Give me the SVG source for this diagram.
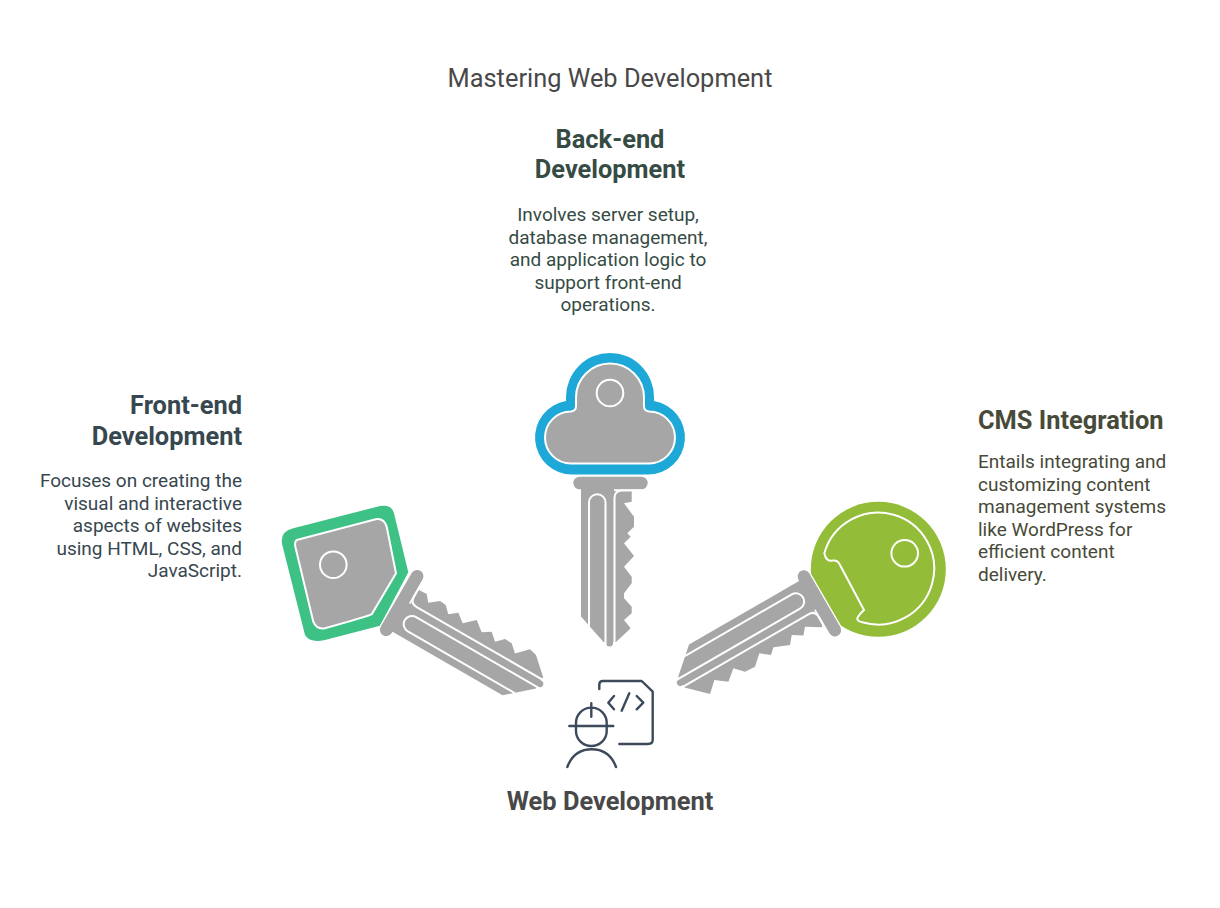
<svg xmlns="http://www.w3.org/2000/svg" width="1220" height="908" viewBox="0 0 1220 908">
<style>
text{font-family:Roboto,"Liberation Sans",sans-serif}
.title{font-size:25.4px;fill:#484848;text-anchor:middle}
.h{font-size:25.4px;font-weight:700}
.b{font-size:19px}
.g{fill:#a6a6a6}
.w{fill:none;stroke:#fff;stroke-width:2}
.gw{fill:#a6a6a6;stroke:#fff;stroke-width:2}
.ic{fill:none;stroke:#3d4a5c;stroke-width:2.4;stroke-linecap:round;stroke-linejoin:round}
</style>
<defs>
<rect id="keybar" x="573.3" y="476.7" width="74.4" height="12.6" rx="6.3" class="g" stroke="#fff" stroke-width="2.5" paint-order="stroke"/>
<g id="keylines">
<path class="w" d="M589 626V502.500A8.250 8.250 0 0 1 605.500 502.500V650"/>
<path class="w" d="M614.500 650V498Q614.500 490.500 622 490.500H645"/>
</g>
</defs>
<rect width="1220" height="908" fill="#fff"/>
<text class="title" x="610" y="86.500">Mastering Web Development</text>
<g id="connectors"/>
<g id="node-backend">
<path fill="#1ea8d8" d="M566 397A44 44 0 0 1 654 397V401A37 37 0 0 1 648 474.500H572A37 37 0 0 1 566 401Z"/>
<path class="gw" d="M576 397.500A34 34 0 0 1 644 397.500V406Q644 411 649 411.500A26 26 0 0 1 649 463.500H571A26 26 0 0 1 571 411.500Q576 411 576 406Z"/>
<circle class="w" cx="610" cy="393" r="13.300"/>
<use href="#keybar"/>
<path class="g" d="M581 487V616.500L603.500 642H606V643A3.500 3.500 0 0 0 613 643V642H616L630.700 628.300L624 620L631.700 613.300V606.700L624 598.300V593.300L631.700 583.300V576.700L624 566.700L634 556L624 543.300L630.700 536.700L627.300 533.300L634 526.700V516.700L624 503.300L631.700 501.700V491H614V487Z"/>
<use href="#keylines"/>
<text class="h" x="610" y="147.500" text-anchor="middle" fill="#364b44">Back-end</text>
<text class="h" x="610" y="177.500" text-anchor="middle" fill="#364b44">Development</text>
<g class="b" text-anchor="middle" fill="#364b44">
<text x="608" y="221">Involves server setup,</text>
<text x="608" y="243.500">database management,</text>
<text x="608" y="266">and application logic to</text>
<text x="608" y="288.500">support front-end</text>
<text x="608" y="311">operations.</text>
</g>
</g>
<g id="node-frontend">
<path fill="#3dc185" d="M293.300 528.300L380 506Q391.700 504 394 513.300L408.300 572.300L380 625.700L325 640Q310 643.300 305 635L282.300 545Q279.300 531.700 293.300 528.300Z"/>
<path class="gw" d="M296.700 540L376.700 519Q384 518.300 386.700 526.700L396 573.300L371.700 614.300Q370 615.700 325 628.300Q316.700 630 313.300 621.700L295.700 548.300Q294 542.300 296.700 540Z"/>
<circle class="w" cx="333.300" cy="564.700" r="13.300"/>
<g transform="translate(401.700 603) rotate(-60) translate(-610.500 -483)">
<use href="#keybar"/>
<path class="g" d="M581 487V616.500L603.500 642H606V643A3.500 3.500 0 0 0 613 643V642H616L616.700 643L632.600 625.300L634.500 617.300L623.500 606.300L630.600 598.400L631 590.500L623.600 583.200L630.600 575.300L625.100 566.900L633.300 556.500L623.400 546L630.400 536.900L624 529L630.800 522.100L631.400 515.200L624.100 505.900L630.800 500.100L630.300 491H614V487Z"/>
<use href="#keylines"/>
</g>
<text class="h" x="242" y="413.500" text-anchor="end" fill="#37474f">Front-end</text>
<text class="h" x="242" y="444.500" text-anchor="end" fill="#37474f">Development</text>
<g class="b" text-anchor="end" fill="#37474f">
<text x="242" y="487">Focuses on creating the</text>
<text x="242" y="509.500">visual and interactive</text>
<text x="242" y="532">aspects of websites</text>
<text x="242" y="554.500">using HTML, CSS, and</text>
<text x="242" y="577">JavaScript.</text>
</g>
</g>
<g id="node-cms">
<circle cx="878.300" cy="569.300" r="67.500" fill="#93bc38"/>
<path fill="#93bc38" stroke="#fff" stroke-width="2" d="M824.300 553.300A56 56 0 1 1 862.300 622.300Q856 621 857.700 617.300Q860.500 613 864 610L840 565Q838 560 833 560.500Q826 562 824.300 553.300Z"/>
<circle class="w" cx="904.700" cy="553.300" r="13.300"/>
<g transform="translate(819.400 603.300) rotate(60) translate(-610.500 -483)">
<use href="#keybar"/>
<path class="g" d="M581 487V616.500L603.500 642H606V643A3.500 3.500 0 0 0 613 643V642H616L634.300 623L624.400 612.300L632.900 601L623.800 590L632.500 581.600L633.200 570.500L623.800 560L631.100 550.800L625.600 544.800L631.900 529.300L624.100 522.800L630.500 513L623.600 507.200L632.400 493L631 491H614V487Z"/>
<use href="#keylines"/>
</g>
<text class="h" x="978" y="428.500" fill="#474a38">CMS Integration</text>
<g class="b" fill="#474a38">
<text x="978" y="468">Entails integrating and</text>
<text x="978" y="490.500">customizing content</text>
<text x="978" y="513">management systems</text>
<text x="978" y="535.500">like WordPress for</text>
<text x="978" y="558">efficient content</text>
<text x="978" y="580.500">delivery.</text>
</g>
</g>
<g id="node-webdev">
<path class="ic" d="M599.300 689V684.500Q599.300 681 603 681H641.700L652.700 691.700V740Q652.700 744 648 744H619.300"/>
<path class="ic" d="M614 696L608.300 702.700L614 709.300M629.300 693.300L621.700 710.700M636.700 696L643.300 702.700L636.700 709.300"/>
<path class="ic" d="M576 726V723A15.300 15.300 0 0 1 606.700 723V731A15.300 15 0 0 1 576 731ZM569.300 726H613.300M591.300 703.300V716.700M567.300 767Q574 749.300 591.700 749.300Q609.500 749.300 616 767"/>
<text class="h" x="610" y="809.500" text-anchor="middle" fill="#484848">Web Development</text>
</g>
</svg>
